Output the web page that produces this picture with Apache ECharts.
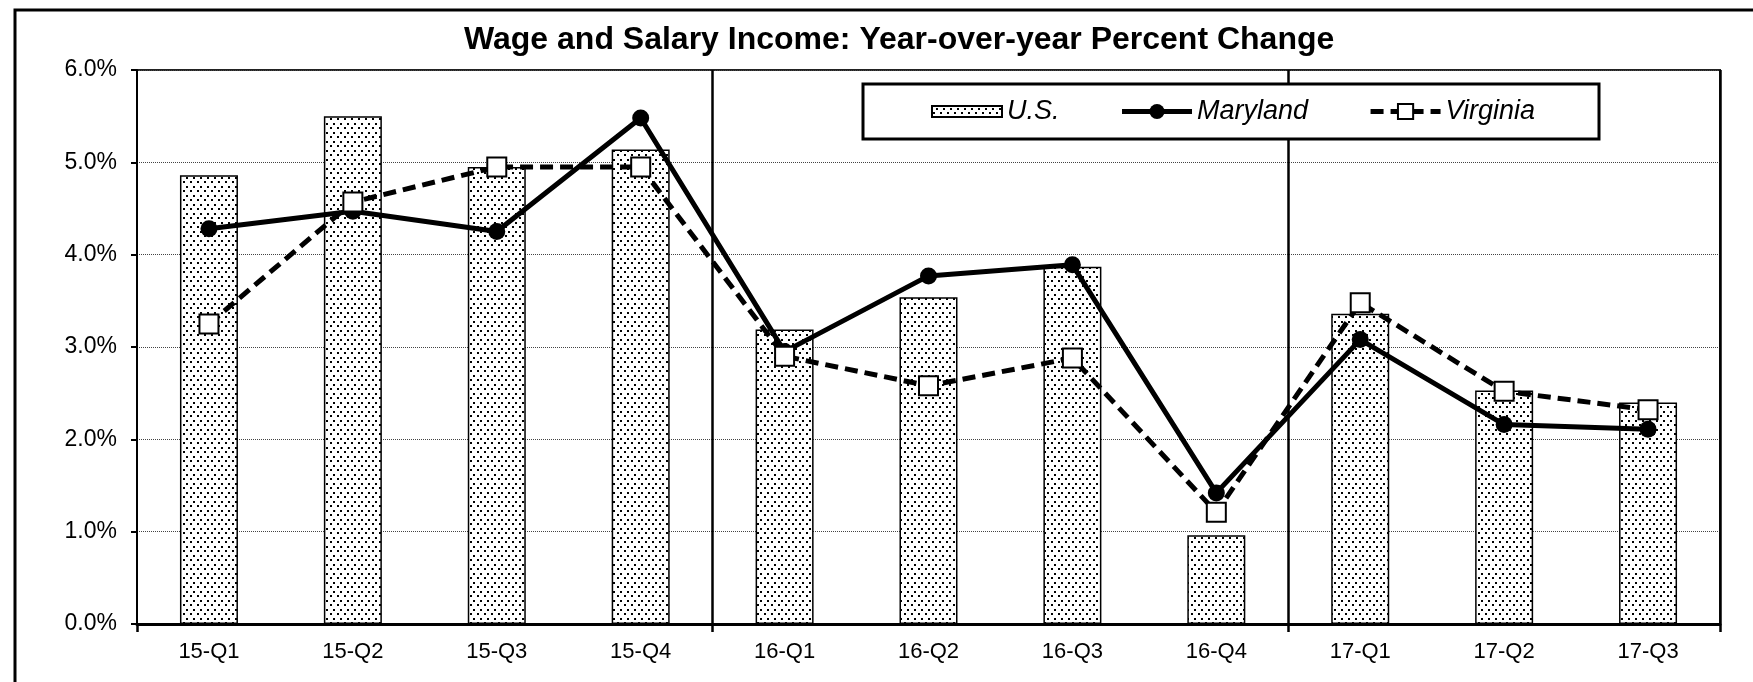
<!DOCTYPE html>
<html>
<head>
<meta charset="utf-8">
<script src="https://cdn.jsdelivr.net/npm/echarts@6/dist/echarts.min.js"></script>
<style>
  html, body { margin: 0; padding: 0; background: #fff; }
  #chart { width: 1753px; height: 682px; }
</style>
</head>
<body>
<div id="chart"></div>
<script>
// Quarterly categories
const quarters = ['15-Q1', '15-Q2', '15-Q3', '15-Q4', '16-Q1', '16-Q2', '16-Q3', '16-Q4', '17-Q1', '17-Q2', '17-Q3'];
// Year-over-year percent change in wage and salary income
const usValues       = [4.86, 5.50, 4.95, 5.14, 3.19, 3.54, 3.87, 0.96, 3.36, 2.53, 2.40];
const marylandValues = [4.28, 4.47, 4.25, 5.48, 2.95, 3.77, 3.89, 1.42, 3.08, 2.16, 2.11];
const virginiaValues = [3.25, 4.57, 4.95, 4.95, 2.90, 2.58, 2.88, 1.21, 3.48, 2.52, 2.32];
// Year boundaries (index of first quarter of each new year)
const yearBreaks = [4, 8];

const FONT = '"Liberation Sans", Arial, sans-serif';

// Stippled fill used for the U.S. bars
function makeDotPattern() {
  const c = document.createElement('canvas');
  c.width = 7; c.height = 9;
  const ctx = c.getContext('2d');
  ctx.fillStyle = '#fff';
  ctx.fillRect(0, 0, 7, 9);
  ctx.fillStyle = '#000';
  ctx.fillRect(1, 1, 2, 2);
  ctx.fillRect(4, 6, 2, 2);
  return c;
}
const dotFill = { image: makeDotPattern(), repeat: 'repeat' };

const chart = echarts.init(document.getElementById('chart'), null, { renderer: 'canvas' });

chart.setOption({
  animation: false,
  backgroundColor: '#fff',
  title: {
    text: 'Wage and Salary Income: Year-over-year Percent Change',
    left: 464,
    top: 24,
    padding: 0,
    textStyle: { fontFamily: FONT, fontWeight: 'bold', fontSize: 32, color: '#000' }
  },
  graphic: [
    {
      type: 'rect',
      shape: { x: 15, y: 10, width: 1800, height: 800 },
      style: { fill: 'none', stroke: '#000', lineWidth: 3 },
      silent: true
    },
    {
      type: 'rect',
      shape: { x: 863, y: 84, width: 736, height: 55 },
      style: { fill: '#fff', stroke: '#000', lineWidth: 3 },
      z: 5,
      silent: true
    }
  ],
  legend: {
    left: 931,
    top: 98,
    padding: 0,
    itemWidth: 70,
    itemHeight: 19,
    itemGap: 60,
    z: 10,
    symbolKeepAspect: true,
    textStyle: { fontFamily: FONT, fontStyle: 'italic', fontSize: 27, color: '#000' },
    data: [
      { name: 'U.S.', icon: 'path://M0,0H70V11H0Z' },
      { name: 'Maryland', lineStyle: { width: 5 } },
      { name: 'Virginia', lineStyle: { width: 5 } }
    ]
  },
  grid: {
    left: 137,
    right: 33,
    top: 70,
    bottom: 58,
    show: true,
    borderColor: '#222',
    borderWidth: 2,
    backgroundColor: 'transparent'
  },
  xAxis: {
    type: 'category',
    data: quarters,
    boundaryGap: true,
    axisLine: { show: true, lineStyle: { color: '#000', width: 3 } },
    axisTick: {
      show: true,
      length: 8,
      interval: function (i) { return i === 0 || yearBreaks.indexOf(i) >= 0; },
      lineStyle: { color: '#000', width: 2.5 }
    },
    splitLine: {
      show: true,
      interval: function (i) { return yearBreaks.indexOf(i) >= 0; },
      lineStyle: { color: '#000', width: 2.5, type: 'solid' }
    },
    axisLabel: { fontFamily: FONT, fontSize: 22, color: '#000', margin: 17, interval: 0 }
  },
  yAxis: {
    type: 'value',
    min: 0,
    max: 6,
    interval: 1,
    axisLine: { show: true, lineStyle: { color: '#000', width: 2 } },
    axisTick: { show: true, inside: false, length: 6, lineStyle: { color: '#000', width: 2 } },
    splitLine: { show: true, lineStyle: { color: '#444', width: 1, type: 'dotted' } },
    axisLabel: {
      fontFamily: FONT, fontSize: 23, color: '#000', margin: 20,
      formatter: function (v) { return v.toFixed(1) + '%'; }
    }
  },
  series: [
    {
      name: 'U.S.',
      type: 'bar',
      data: usValues,
      barWidth: 58,
      itemStyle: { color: dotFill, borderColor: '#000', borderWidth: 1.5 },
      z: 2
    },
    {
      name: 'Maryland',
      type: 'line',
      data: marylandValues,
      symbol: 'circle',
      symbolSize: 17,
      lineStyle: { color: '#000', width: 5, type: 'solid' },
      itemStyle: { color: '#000', borderColor: '#000', borderWidth: 0 },
      z: 3
    },
    {
      name: 'Virginia',
      type: 'line',
      data: virginiaValues,
      symbol: 'rect',
      symbolSize: 19,
      lineStyle: { color: '#000', width: 5, type: [13, 7] },
      itemStyle: { color: '#fff', borderColor: '#000', borderWidth: 2 },
      z: 4
    }
  ]
});
</script>
</body>
</html>
